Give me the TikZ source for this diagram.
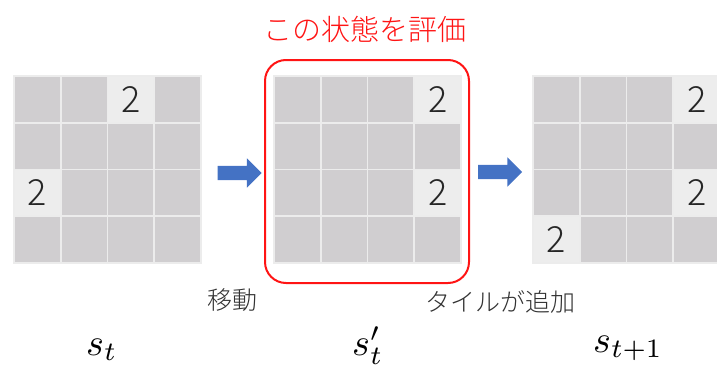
\documentclass[tikz,border=0pt]{standalone}
\usepackage{fontspec}
\newfontfamily\jp{Noto Sans CJK JP}
\newfontfamily\jplight{Noto Sans CJK JP Light}
\usetikzlibrary{shapes.arrows}
\definecolor{darkcell}{RGB}{208,206,208}
\definecolor{lightcell}{RGB}{237,237,237}
\definecolor{gridline}{RGB}{236,236,236}
\definecolor{arrowblue}{RGB}{68,114,196}
\definecolor{evalred}{RGB}{255,20,20}
\definecolor{numcol}{RGB}{38,38,38}
\definecolor{labelcol}{RGB}{50,50,50}
\tikzset{
  cellbox/.style={rectangle, fill=darkcell, draw=gridline, line width=1.6pt,
    minimum size=46.75pt, inner sep=0pt},
  lightbox/.style={cellbox, fill=lightcell, text=numcol,
    font=\jplight\fontsize{36}{36}\selectfont},
  blockarrow/.style={single arrow, fill=arrowblue, draw=none, inner sep=7pt,
    minimum height=44pt, single arrow head extend=7.5pt},
  jplabel/.style={font=\jplight\fontsize{25}{25}\selectfont, text=labelcol, inner sep=0pt},
  mathlabel/.style={inner sep=0pt, anchor=base west},
}
\begin{document}
\begin{tikzpicture}[x=1pt, y=-1pt]
\useasboundingbox (0,0) rectangle (717,383);
\begin{scope}
\clip (0,0) rectangle (717,383);
% grids
\foreach \g/\gx in {1/14, 2/274, 3/533} {
  \foreach \r in {0,...,3} {
    \foreach \c in {0,...,3} {
      \node[cellbox] (g\g-\r\c) at (\gx+\c*46.75+23.375, 76+\r*46.75+23.375) {};
    }
  }
}
% light cells with tiles
\foreach \n in {g1-02, g1-20, g2-03, g2-23, g3-03, g3-23, g3-30} {
  \node[lightbox] (\n-tile) at (\n) {2};
}
\end{scope}
% evaluation box
\node[draw=evalred, line width=2pt, rounded corners=21pt, minimum width=204pt,
  minimum height=223pt, inner sep=0pt] (evalbox) at (367,171.5) {};
\node[font=\jplight\fontsize{29}{29}\selectfont, text=evalred, inner sep=0pt]
  (evaltext) at (365,29) {この状態を評価};
% arrows
\node[blockarrow] (arr1) at (236,173) {};
\node[blockarrow] (arr2) at (496.5,172) {};
% labels
\node[jplabel] (move) at (232,300) {移動};
\node[jplabel] (add) at (500,302) {タイルが追加};
\node[mathlabel] (st) at (86,355) {\scalebox{3.8}{$s_t$}};
\node[mathlabel] (stp) at (352,355) {\scalebox{3.8}{$s'_t$}};
\node[mathlabel] (st1) at (593,352) {\scalebox{3.8}{$s_{t+1}$}};
\end{tikzpicture}
\end{document}
